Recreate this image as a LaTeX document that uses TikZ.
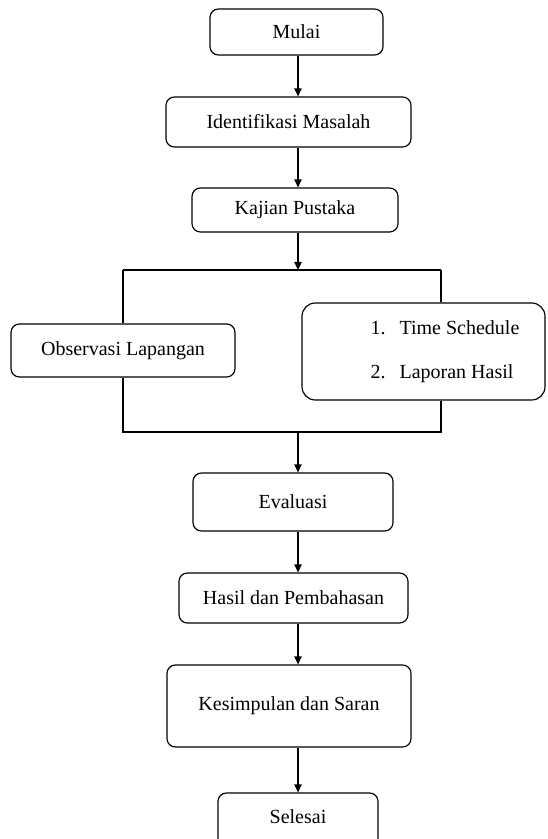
\documentclass[tikz,border=0pt]{standalone}
\usepackage{fontspec}
\setmainfont{Liberation Serif}
\usetikzlibrary{calc,positioning}
\usetikzlibrary{arrows.meta}

\tikzset{
  kotak/.style={draw, line width=0.7pt, rounded corners=5pt, inner sep=0pt,
    font=\fontsize{12}{14.4}\selectfont},
  garis/.style={line width=0.7pt},
  panah/.style={line width=0.7pt,-{Triangle[width=4.4pt,length=4.8pt]}}
}

\begin{document}
\begin{tikzpicture}[x=0.6pt,y=-0.6pt]
        \path[use as bounding box, clip] (0,0) rectangle (547,839);

        \coordinate (kol) at (298,0);
        \coordinate (kiriatas) at (123,270);
        \coordinate (kananatas) at (441,270);
        \coordinate (kiribawah) at (123,432);
        \coordinate (kananbawah) at (441,432);

        \node[kotak, minimum width=103.8pt, minimum height=27.6pt] (mulai) at (296.5,32) {Mulai};
        \node[kotak, minimum width=147pt, minimum height=30pt] (ident) at (288.5,122) {Identifikasi Masalah};
        \node[kotak, minimum width=123.6pt, minimum height=26.4pt] (kajian) at (295,210) {Kajian Pustaka};
        \node[kotak, minimum width=134.4pt, minimum height=31.8pt] (obs) at (123,350.5) {Observasi Lapangan};
        \node[kotak, rounded corners=8pt, minimum width=145.8pt, minimum height=58.2pt] (jadwal) at (423.5,351.5)
            {\begin{tabular}{@{\hspace{25.8pt}}p{17.4pt}@{}l@{}}
              1. & Time Schedule\\[12pt]
              2. & Laporan Hasil
            \end{tabular}};
        \node[kotak, minimum width=120pt, minimum height=34.8pt] (eval) at (293,502) {Evaluasi};
        \node[kotak, minimum width=137.4pt, minimum height=30pt] (hasil) at (293.5,598) {Hasil dan Pembahasan};
        \node[kotak, minimum width=146.4pt, minimum height=49.2pt] (simpul) at (289,706) {Kesimpulan dan Saran};
        \node[kotak, minimum width=96pt, minimum height=33.6pt] (selesai) at (298,821) {\raisebox{4.8pt}{Selesai}};

        % alur utama
        \draw[panah] (mulai.south -| kol) -- (ident.north -| kol);
        \draw[panah] (ident.south -| kol) -- (kajian.north -| kol);
        \draw[panah] (kajian.south -| kol) -- (kol |- kiriatas);

        % cabang
        \draw[garis] (kiriatas) -- (kananatas);
        \draw[garis] (kiriatas) -- (obs.north -| kiriatas);
        \draw[garis] (kananatas) -- (jadwal.north -| kananatas);
        \draw[garis] (obs.south -| kiribawah) -- (kiribawah) -- (kananbawah) -- (jadwal.south -| kananbawah);

        \draw[panah] (kol |- kiribawah) -- (eval.north -| kol);
        \draw[panah] (eval.south -| kol) -- (hasil.north -| kol);
        \draw[panah] (hasil.south -| kol) -- (simpul.north -| kol);
        \draw[panah] (simpul.south -| kol) -- (selesai.north -| kol);
\end{tikzpicture}
\end{document}
